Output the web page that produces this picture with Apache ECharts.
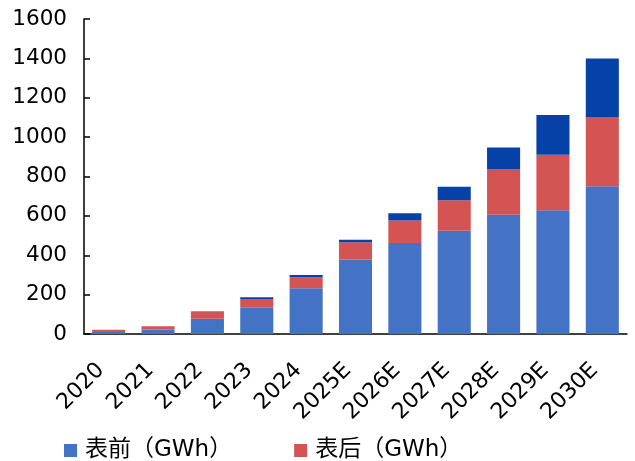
<!DOCTYPE html>
<html>
<head>
<meta charset="utf-8">
<script src="https://cdn.jsdelivr.net/npm/echarts@6/dist/echarts.min.js"></script>
<style>
  html, body { margin: 0; padding: 0; background: #fff; }
  #chart { width: 635px; height: 461px; }
</style>
</head>
<body>
<div id="chart"></div>
<script>
const categories = ['2020', '2021', '2022', '2023', '2024', '2025E', '2026E', '2027E', '2028E', '2029E', '2030E'];
// 表前
const frontData = [10, 23, 77, 133, 232, 378, 462, 525, 606, 628, 750];
// 表后
const backData = [12, 17, 39, 45, 56, 88, 114, 155, 230, 282, 350];
// 其他（图例未显示）
const otherData = [0, 0, 0, 9, 12, 13, 37, 68, 111, 203, 300];
const yTicks = [0, 200, 400, 600, 800, 1000, 1200, 1400, 1600];

const font = '"DejaVu Sans", "Noto Sans CJK SC", sans-serif';

const chart = echarts.init(document.getElementById('chart'));
chart.setOption({
  animation: false,
  color: ['#4472C4', '#D35452', '#0641A7'],
  grid: {
    left: 84,
    right: 8,
    top: 19,
    bottom: 127,
  },
  legend: {
    data: ['表前（GWh）', '表后（GWh）'],
    left: 59,
    top: 434,
    itemWidth: 13,
    itemHeight: 13,
    itemGap: 62,
    icon: 'rect',
    textStyle: { fontSize: 23, color: '#000', fontFamily: font, padding: [0, 0, 0, 3] },
  },
  xAxis: {
    type: 'category',
    data: categories,
    axisLine: { lineStyle: { color: '#000', width: 1.5 } },
    axisTick: { inside: true, length: 7, lineStyle: { color: '#000', width: 1.5 } },
    axisLabel: {
      interval: 0,
      rotate: 45,
      fontSize: 22,
      color: '#000',
      fontFamily: font,
      margin: 25,
      padding: [0, 11, 0, 0],
    },
  },
  yAxis: {
    type: 'value',
    min: yTicks[0],
    max: yTicks[yTicks.length - 1],
    interval: 200,
    splitLine: { show: false },
    axisLine: { show: true, lineStyle: { color: '#000', width: 1.5 } },
    axisTick: { show: true, inside: true, length: 6, lineStyle: { color: '#000', width: 1.5 } },
    axisLabel: {
      fontSize: 21.5,
      color: '#000',
      fontFamily: font,
      margin: 17,
      formatter: (v) => String(v),
    },
  },
  series: [
    { name: '表前（GWh）', type: 'bar', stack: 'total', data: frontData, barWidth: '67%' },
    { name: '表后（GWh）', type: 'bar', stack: 'total', data: backData },
    { name: '其他', type: 'bar', stack: 'total', data: otherData },
  ],
});
</script>
</body>
</html>
